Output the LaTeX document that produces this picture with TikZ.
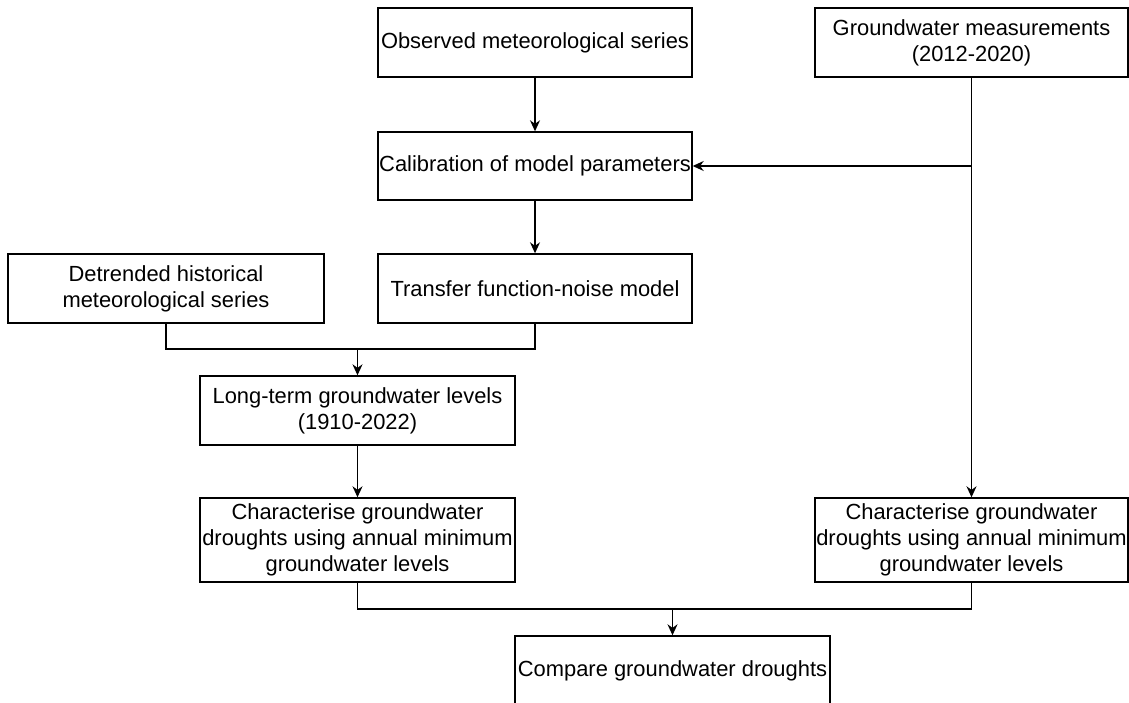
\documentclass[tikz,border=0pt]{standalone}
\usepackage{fontspec}
\setmainfont{Liberation Sans}
\usetikzlibrary{arrows.meta}
\begin{document}
\begin{tikzpicture}[x=1pt,y=-1pt,
  box/.style={draw=black, line width=1.4pt, rectangle, align=center, inner sep=0pt,
    font=\fontsize{21.9}{26}\selectfont},
  conn/.style={draw=black, line width=1.4pt},
  arr/.style={conn, -{Stealth[length=11pt,width=10pt]}}]
\useasboundingbox (0,0) rectangle (1129,703);
\clip (0,0) rectangle (1129,703);
\fill[white] (0,0) rectangle (1129,703);
\node[box, minimum width=314pt, minimum height=69pt] (obs) at (535,42.5) {Observed meteorological series};
\node[box, minimum width=313pt, minimum height=69pt] (gwm) at (971.5,42.5) {Groundwater measurements\\(2012-2020)};
\node[box, minimum width=314pt, minimum height=68pt] (cal) at (535,166) {Calibration of model parameters};
\node[box, minimum width=314pt, minimum height=69pt] (tfn) at (535,288.5) {Transfer function-noise model};
\node[box, minimum width=316pt, minimum height=69pt] (det) at (166,288.5) {Detrended historical\\meteorological series};
\node[box, minimum width=315pt, minimum height=69pt] (lt) at (357.5,410.5) {Long-term groundwater levels\\(1910-2022)};
\node[box, minimum width=315pt, minimum height=84pt] (ch1) at (357.5,540) {Characterise groundwater\\droughts using annual minimum\\groundwater levels};
\node[box, minimum width=313pt, minimum height=84pt] (ch2) at (971.5,540) {Characterise groundwater\\droughts using annual minimum\\groundwater levels};
\node[box, minimum width=315pt, minimum height=69pt] (cmp) at (672.5,670.5) {Compare groundwater droughts};
\coordinate (j1) at (357.5,349);
\coordinate (j2) at (672.5,609);
\draw[arr] (obs.south) -- (cal.north);
\draw[arr] (gwm.south) |- (cal.east);
\draw[arr] (gwm.south) -- (ch2.north);
\draw[arr] (cal.south) -- (tfn.north);
\draw[conn] (det.south) |- (j1);
\draw[conn] (tfn.south) |- (j1);
\draw[arr] (j1) -- (lt.north);
\draw[arr] (lt.south) -- (ch1.north);
\draw[conn] (ch1.south) |- (j2);
\draw[conn] (ch2.south) |- (j2);
\draw[arr] (j2) -- (cmp.north);
\end{tikzpicture}
\end{document}
